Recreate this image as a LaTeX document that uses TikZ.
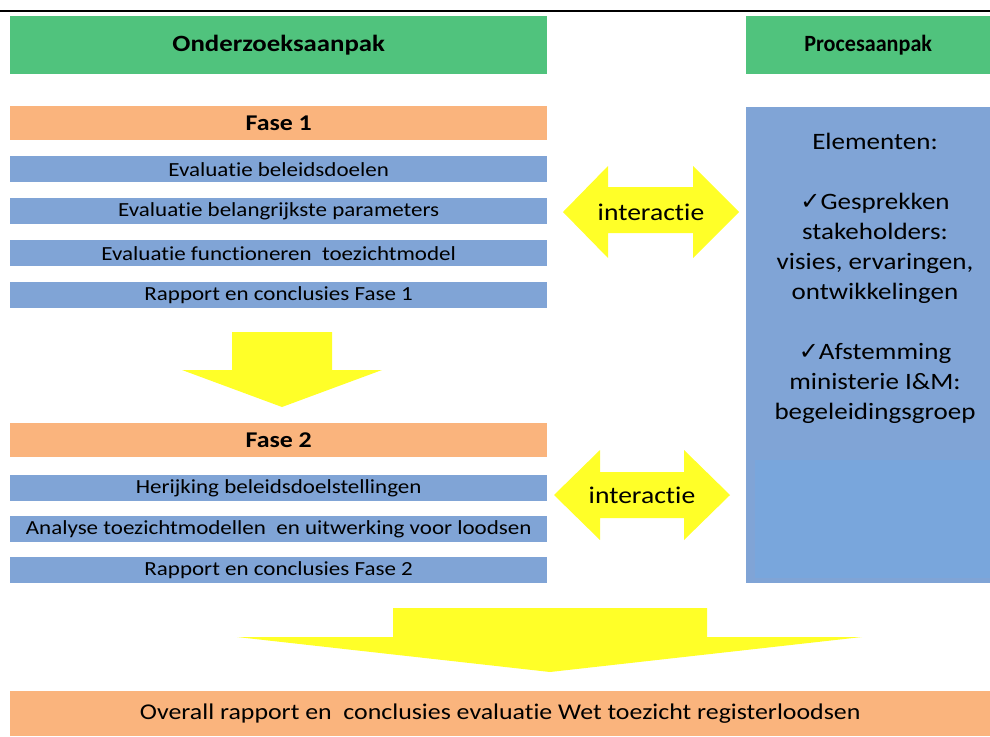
\documentclass[tikz,border=0pt]{standalone}
\usepackage{fontspec}
\setmainfont{Carlito}[FakeStretch=1.15, Ligatures=NoCommon]
\newfontfamily\smalfont{Carlito}[FakeStretch=0.95, Ligatures=NoCommon]
\newfontfamily\vinkfont{DejaVu Sans}
\usepackage{tikz}
\definecolor{kopgroen}{RGB}{80,195,125}
\definecolor{faseoranje}{RGB}{250,180,125}
\definecolor{stapblauw}{RGB}{128,164,214}
\definecolor{vlakblauw}{RGB}{121,166,220}
\definecolor{pijlgeel}{RGB}{255,255,40}
\tikzset{
  balk/.style={anchor=north west, inner sep=0pt, minimum width=537pt, text=black},
  kopbalk/.style={balk, fill=kopgroen, minimum height=58pt, font=\fontsize{23.3}{27}\selectfont\bfseries},
  fasebalk/.style={balk, fill=faseoranje, minimum height=34pt, font=\fontsize{22.5}{26}\selectfont\bfseries},
  stapbalk/.style={balk, fill=stapblauw, minimum height=26pt, font=\fontsize{20}{23}\selectfont},
  pijl/.style={fill=pijlgeel},
  pijltekst/.style={font=\fontsize{24}{28}\selectfont, inner sep=0pt}
}

\begin{document}
\begin{tikzpicture}[x=1pt, y=-1pt]
            \useasboundingbox (0,0) rectangle (990,736);

            % Lijn bovenaan
            \draw[line width=2.5pt] (0,11) -- (990,11);

            % Koppen
            \node[kopbalk] (onderzoek) at (10,16) {Onderzoeksaanpak};
            \node[kopbalk, minimum width=244pt, font=\smalfont\fontsize{23.3}{27}\selectfont\bfseries] (proces) at (746,16) {Procesaanpak};

            % Fase 1
            \node[fasebalk] (fase1) at (10,106) {Fase 1};
            \foreach \y/\tekst/\naam in {156/Evaluatie beleidsdoelen/stapa, 198/Evaluatie belangrijkste parameters/stapb,
                240/Evaluatie functioneren\ \ toezichtmodel/stapc, 282/Rapport en conclusies Fase 1/stapd} {
                \node[stapbalk] (\naam) at (10,\y) {\tekst};
            }

            % Pijl naar Fase 2
            \fill[pijl] (232,332) -- (332,332) -- (332,370) -- (382,370) -- (282,407)
                -- (182,370) -- (232,370) -- cycle;

            % Fase 2
            \node[fasebalk] (fase2) at (10,423) {Fase 2};
            \foreach \y/\tekst/\naam in {475/Herijking beleidsdoelstellingen/stape,
                516/Analyse toezichtmodellen\ \ en uitwerking voor loodsen/stapf, 557/Rapport en conclusies Fase 2/stapg} {
                \node[stapbalk] (\naam) at (10,\y) {\tekst};
            }

            % Procesaanpak
            \fill[stapblauw] (746,107) rectangle (990,583);
            \fill[vlakblauw] (755,460) rectangle (990,578);
            \node[pijltekst, align=center, font=\fontsize{23.5}{30}\selectfont] (elementen) at (875,278)
                {Elementen:\\[30pt]{\vinkfont\fontsize{24}{30}\selectfont ✓}Gesprekken\\stakeholders:\\visies, ervaringen,\\ontwikkelingen\\[30pt]
                 {\vinkfont\fontsize{24}{30}\selectfont ✓}Afstemming\\ministerie I\&M:\\begeleidingsgroep};

            % Interactie
            \fill[pijl] (563,212) -- (608,166) -- (608,187) -- (693,187) -- (693,166) -- (739,212)
                -- (693,258) -- (693,233) -- (608,233) -- (608,258) -- cycle;
            \node[pijltekst] (interactie1) at (651,212) {interactie};
            \fill[pijl] (554,495) -- (600,450) -- (600,472) -- (684,472) -- (684,450) -- (730,495)
                -- (684,540) -- (684,518) -- (600,518) -- (600,540) -- cycle;
            \node[pijltekst] (interactie2) at (642,495) {interactie};

            % Pijl naar eindrapport
            \fill[pijl] (393,608) -- (707,608) -- (707,637) -- (862,637) -- (550,672)
                -- (237,637) -- (393,637) -- cycle;

            % Eindrapport
            \node[balk, fill=faseoranje, minimum width=980pt, minimum height=45pt, font=\fontsize{22.5}{27}\selectfont]
                (eindrapport) at (10,691) {Overall rapport en\ \ conclusies evaluatie Wet toezicht registerloodsen};
        \end{tikzpicture}
\end{document}
